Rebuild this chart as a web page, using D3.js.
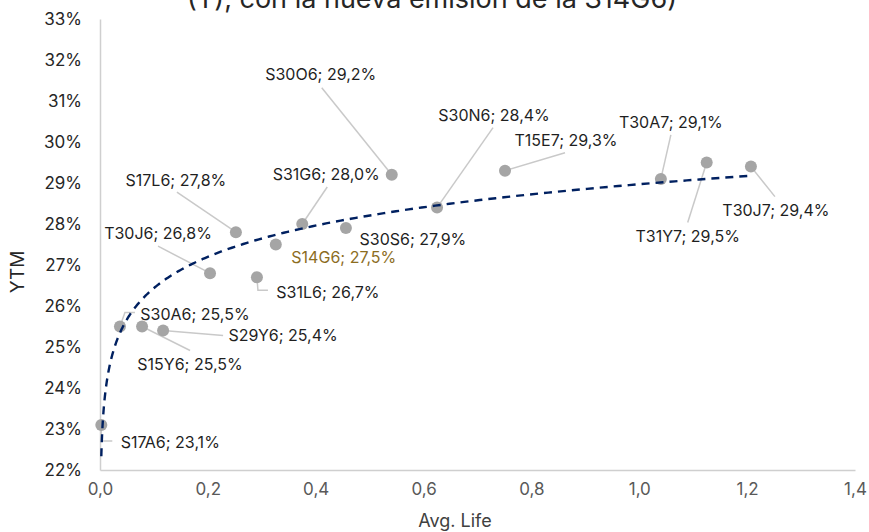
<!DOCTYPE html>
<html>
<head>
<meta charset="utf-8">
<script src="https://cdn.jsdelivr.net/npm/d3@7"></script>
<style>
  html, body { margin: 0; padding: 0; background: #fff; }
  svg { display: block; font-family: Inter, "Noto Sans", sans-serif; }
</style>
</head>
<body>
<svg id="chart" width="869" height="532"></svg>
<script>
// Bond tickers, average life (years) and yield to maturity (%)
const tickers  = ["S17A6","S30A6","S15Y6","S29Y6","T30J6","S17L6","S31L6","S14G6","S31G6","S30S6","S30O6","S30N6","T15E7","T30A7","T31Y7","T30J7"];
const avgLife  = [0.0024, 0.037, 0.078, 0.117, 0.204, 0.252, 0.291, 0.326, 0.375, 0.456, 0.541, 0.625, 0.751, 1.040, 1.125, 1.207];
const ytm      = [23.1, 25.5, 25.5, 25.4, 26.8, 27.8, 26.7, 27.5, 28.0, 27.9, 29.2, 28.4, 29.3, 29.1, 29.5, 29.4];
const highlighted = ["S14G6"];

// Logarithmic trend: ytm = a + b * ln(avgLife)
const trendIntercept = 28.97;
const trendSlope = 1.10;

const xTicks = [0, 0.2, 0.4, 0.6, 0.8, 1.0, 1.2, 1.4];
const yTicks = [22, 23, 24, 25, 26, 27, 28, 29, 30, 31, 32, 33];

const titleText = "(T), con la nueva emisión de la S14G6)";

// Label placement relative to each marker (pixels): text centre and leader path
const labelLayout = {
  S17A6: { t: [69, 17],   lead: [[11, 16], [0, 16]] },
  S30A6: { t: [75, -12],  lead: [[15, -14], [5, -14]] },
  S15Y6: { t: [48, 38],   lead: [[48, 24]] },
  S29Y6: { t: [120, 5],   lead: [[60, 5]] },
  T30J6: { t: [-52, -40], lead: [[-52, -27]] },
  S17L6: { t: [-60, -52], lead: [[-59, -40]] },
  S31L6: { t: [71, 15],   lead: [[11, 13], [1, 13]] },
  S14G6: { t: [68, 13],   lead: null },
  S31G6: { t: [24, -50],  lead: [[25, -37]] },
  S30S6: { t: [67, 11],   lead: null },
  S30O6: { t: [-71, -101], lead: [[-70, -87]] },
  S30N6: { t: [57, -92],  lead: [[56, -80]] },
  T15E7: { t: [61, -30],  lead: [[60, -18]] },
  T30A7: { t: [10, -57],  lead: [[10, -44]] },
  T31Y7: { t: [-19, 74],  lead: [[-19, 60]] },
  T30J7: { t: [25, 44],   lead: [[24, 30]] }
};

const fmtPct = v => d3.format(".1f")(v).replace(".", ",") + "%";
const fmtX = v => d3.format(".1f")(v).replace(".", ",");

const svg = d3.select("#chart");
const margin = { left: 100, right: 14, top: 19, bottom: 62 };
const W = 869, H = 532;

const x = d3.scaleLinear().domain([0, 1.4]).range([margin.left, W - margin.right]);
const y = d3.scaleLinear().domain([22, 33]).range([H - margin.bottom, margin.top]);

const points = tickers.map((name, i) => ({ name, x: avgLife[i], y: ytm[i] }));

// Title (runs past the top edge of the frame)
svg.append("text")
  .attr("x", 432).attr("y", 8)
  .attr("text-anchor", "middle")
  .attr("font-size", 27)
  .attr("fill", "#262626")
  .text(titleText);

// Axes
const axisColor = "#cfcfcf";
const yAxis = d3.axisLeft(y).tickValues(yTicks).tickSize(0).tickPadding(18).tickFormat(d => d + "%");
const gy = svg.append("g").attr("transform", `translate(${margin.left},0)`).call(yAxis);
gy.select(".domain").attr("stroke", axisColor).attr("stroke-width", 1.5);
gy.selectAll("text").attr("font-size", 17).attr("fill", "#262626").attr("font-family", "Inter, sans-serif");

const xAxis = d3.axisBottom(x).tickValues(xTicks).tickSize(0).tickPadding(13).tickFormat(fmtX);
const gx = svg.append("g").attr("transform", `translate(0,${H - margin.bottom})`).call(xAxis);
gx.select(".domain").attr("stroke", axisColor).attr("stroke-width", 1.5);
gx.selectAll("text").attr("font-size", 17).attr("fill", "#595959").attr("font-family", "Inter, sans-serif");

// Axis titles
svg.append("text")
  .attr("transform", `translate(24,272) rotate(-90)`)
  .attr("text-anchor", "middle")
  .attr("font-size", 19)
  .attr("fill", "#262626")
  .text("YTM");
svg.append("text")
  .attr("x", 455).attr("y", 527)
  .attr("text-anchor", "middle")
  .attr("font-size", 18)
  .attr("fill", "#404040")
  .text("Avg. Life");

// Leader lines
const leaderGroup = svg.append("g");
points.forEach(p => {
  const L = labelLayout[p.name];
  if (!L || !L.lead) return;
  const px = x(p.x), py = y(p.y);
  const pts = L.lead.map(o => [px + o[0], py + o[1]]).concat([[px, py]]);
  leaderGroup.append("path")
    .attr("d", d3.line()(pts))
    .attr("fill", "none")
    .attr("stroke", "#c9c9c9")
    .attr("stroke-width", 1.5);
});

// Markers
svg.append("g").selectAll("circle")
  .data(points).join("circle")
  .attr("cx", d => x(d.x))
  .attr("cy", d => y(d.y))
  .attr("r", 6)
  .attr("fill", "#a5a5a5");

// Trend line
const xMin = d3.min(avgLife), xMax = d3.max(avgLife);
const trendPts = d3.range(0, 301).map(i => {
  const xv = xMin * Math.pow(xMax / xMin, i / 300);
  return [xv, trendIntercept + trendSlope * Math.log(xv)];
});
svg.append("path")
  .attr("d", d3.line().x(d => x(d[0])).y(d => y(d[1]))(trendPts))
  .attr("fill", "none")
  .attr("stroke", "#002060")
  .attr("stroke-width", 2.4)
  .attr("stroke-dasharray", "8,6");

// Data labels
svg.append("g").selectAll("text")
  .data(points).join("text")
  .attr("x", d => x(d.x) + labelLayout[d.name].t[0])
  .attr("y", d => y(d.y) + labelLayout[d.name].t[1])
  .attr("dy", "0.36em")
  .attr("text-anchor", "middle")
  .attr("font-size", 16)
  .attr("fill", d => highlighted.includes(d.name) ? "#8c6d1f" : "#1f1f1f")
  .text(d => `${d.name}; ${fmtPct(d.y)}`);
</script>
</body>
</html>
